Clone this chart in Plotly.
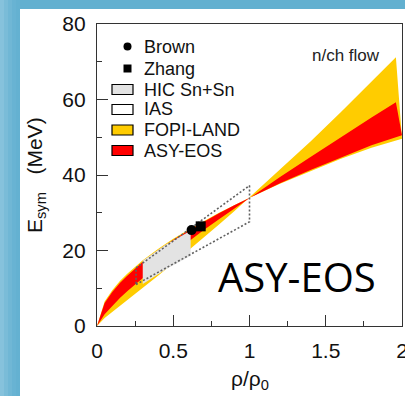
import plotly.graph_objects as go

# ---------------- data ----------------
rho_soft = [0, 0.05, 0.1, 0.15, 0.2, 0.25, 0.3, 0.4, 0.5, 0.6, 0.7, 0.8, 0.9, 1.0, 1.2, 1.4, 1.6, 1.8, 2.0]
rho_stiff = [0, 0.05, 0.1, 0.15, 0.2, 0.25, 0.3, 0.4, 0.5, 0.6, 0.7, 0.8, 0.9, 1.0, 1.2, 1.4, 1.6, 1.8, 1.96]

fopi_soft = [0, 6.5, 9.5, 11.9, 13.9, 15.7, 17.4, 20.4, 23.1, 25.5, 27.8, 30.0, 32.0, 34.0, 37.7, 41.1, 44.3, 47.2, 49.6]
fopi_stiff = [0, 2.1, 3.8, 5.4, 6.9, 8.5, 10.1, 13.3, 16.6, 20.0, 23.4, 26.9, 30.4, 34.0, 41.4, 48.9, 56.7, 64.7, 71.2]

asy_soft = [0, 6.1, 9.0, 11.4, 13.4, 15.3, 17.0, 20.0, 22.8, 25.3, 27.7, 29.9, 32.0, 34.0, 37.8, 41.3, 44.7, 47.9, 50.5]
asy_stiff = [0, 3.1, 5.3, 7.4, 9.25, 11.0, 12.8, 16.1, 19.3, 22.4, 25.4, 28.3, 31.2, 34.0, 39.5, 44.8, 50.1, 55.2, 59.3]

hic_rho = [0.30, 0.45, 0.614]
hic_upper = [17.3, 21.5, 25.2]
hic_lower = [11.1, 15.0, 18.6]

ias_rho = [0.256, 1.0]
ias_upper = [15.4, 37.2]
ias_lower = [11.0, 27.6]

brown_rho, brown_esym = [0.62], [25.4]
zhang_rho, zhang_esym = [0.68], [26.4]

legend_labels = ["Brown", "Zhang", "HIC Sn+Sn", "IAS", "FOPI-LAND", "ASY-EOS"]
x_ticks = [0, 0.5, 1, 1.5, 2]
x_tick_text = ["0", "0.5", "1", "1.5", "2"]
y_ticks = [0, 20, 40, 60, 80]

# ---------------- style ----------------
YELLOW = "#FFCC00"
RED = "#FF0000"
GRAY = "#E3E3E3"
BLUE = "#62B0D0"
W, H = 405, 396
ML, MR, MT, MB = 97, 3, 24, 70
PW, PH = W - ML - MR, H - MT - MB


def px(x):
    return (x - ML) / PW


def py(y):
    return (H - MB - y) / PH


def band(rho_a, ya, rho_b, yb):
    xs = list(rho_a) + list(reversed(rho_b))
    ys = list(ya) + list(reversed(yb))
    return xs + [xs[0]], ys + [ys[0]]


fig = go.Figure()

fx, fy = band(rho_soft, fopi_soft, rho_stiff, fopi_stiff)
fig.add_trace(go.Scatter(x=fx, y=fy, fill="toself", fillcolor=YELLOW, mode="lines",
                         line=dict(width=0), name="FOPI-LAND", showlegend=False, hoverinfo="skip"))
ax, ay = band(rho_soft, asy_soft, rho_stiff, asy_stiff)
fig.add_trace(go.Scatter(x=ax, y=ay, fill="toself", fillcolor=RED, mode="lines",
                         line=dict(width=0), name="ASY-EOS", showlegend=False, hoverinfo="skip"))
hx, hy = band(hic_rho, hic_lower, hic_rho, hic_upper)
fig.add_trace(go.Scatter(x=hx, y=hy, fill="toself", fillcolor=GRAY, mode="lines",
                         line=dict(width=0), name="HIC Sn+Sn", showlegend=False, hoverinfo="skip"))
ix, iy = band(ias_rho, ias_lower, ias_rho, ias_upper)
fig.add_trace(go.Scatter(x=ix, y=iy, mode="lines",
                         line=dict(color="#606060", width=1.6, dash="2px,2px"),
                         name="IAS", showlegend=False, hoverinfo="skip"))
fig.add_trace(go.Scatter(x=brown_rho, y=brown_esym, mode="markers",
                         marker=dict(symbol="circle", size=10, color="black"),
                         name="Brown", showlegend=False))
fig.add_trace(go.Scatter(x=zhang_rho, y=zhang_esym, mode="markers",
                         marker=dict(symbol="square", size=10, color="black"),
                         name="Zhang", showlegend=False))

shapes = []
# background: white panel over the blue slide, with a lighter left edge
left_strips = ["#86C2DC", "#7ABCD8", "#70B7D5", "#68B3D3", "#64B1D1"]
for i, c in enumerate(left_strips):
    shapes.append(dict(type="rect", xref="paper", yref="paper", layer="below",
                       x0=px(i * 4), x1=px(i * 4 + 4), y0=py(H + 5), y1=py(-5),
                       fillcolor=c, line=dict(width=0)))
shapes.append(dict(type="rect", xref="paper", yref="paper", layer="below",
                   x0=px(20), x1=px(W + 5), y0=py(H + 5), y1=py(9),
                   fillcolor="white", line=dict(width=0)))

# manual legend
lx0, lx1 = 112, 133
shapes.append(dict(type="circle", xref="paper", yref="paper",
                   x0=px(123.5), x1=px(131.5), y0=py(50.5), y1=py(42.5),
                   fillcolor="black", line=dict(width=0)))
shapes.append(dict(type="rect", xref="paper", yref="paper",
                   x0=px(123.5), x1=px(131.5), y0=py(72.5), y1=py(64.5),
                   fillcolor="black", line=dict(width=0)))
sw_centers = [89.5, 109.5, 130, 150.5]
sw_colors = [GRAY, "white", YELLOW, RED]
for cy, c in zip(sw_centers, sw_colors):
    shapes.append(dict(type="rect", xref="paper", yref="paper",
                       x0=px(lx0), x1=px(lx1), y0=py(cy + 5), y1=py(cy - 5),
                       fillcolor=c, line=dict(color="black", width=1.2)))

annotations = []
text_centers = [46.7, 69, 89.5, 109.5, 130, 150.5]
for lab, cy in zip(legend_labels, text_centers):
    annotations.append(dict(xref="paper", yref="paper", x=px(142), y=py(cy),
                            text=lab, showarrow=False, xanchor="left", yanchor="middle",
                            font=dict(family="Liberation Sans, Arial", size=18, color="#111")))

annotations.append(dict(xref="x", yref="y", x=1.63, y=71.7, text="n/ch flow", showarrow=False,
                        xanchor="center", yanchor="middle",
                        font=dict(family="Liberation Sans, Arial", size=17, color="#222")))
annotations.append(dict(xref="x", yref="y", x=1.314, y=13.1, text="ASY-EOS", showarrow=False,
                        xanchor="center", yanchor="middle",
                        font=dict(family="Open Sans", size=40, color="black")))
annotations.append(dict(xref="paper", yref="paper", x=px(36), y=py(175),
                        text="E<sub>sym</sub>&nbsp;&nbsp; (MeV)", showarrow=False, textangle=-90,
                        xanchor="center", yanchor="middle",
                        font=dict(family="Liberation Sans, Arial", size=21, color="#111")))
annotations.append(dict(xref="paper", yref="paper", x=px(250), y=py(380),
                        text="ρ/ρ<sub>0</sub>", showarrow=False,
                        xanchor="center", yanchor="middle",
                        font=dict(family="Liberation Sans, Arial", size=21, color="#111")))

axis_common = dict(showgrid=False, zeroline=False, showline=True, linecolor="#333", linewidth=1.3,
                   mirror=True, ticks="inside", ticklen=11, tickwidth=1.3, tickcolor="#333",
                   ticklabeloverflow="allow", automargin=False,
                   tickfont=dict(family="Liberation Sans, Arial", size=21, color="#111"))

fig.update_layout(
    width=W, height=H,
    margin=dict(l=ML, r=MR, t=MT, b=MB, autoexpand=False),
    paper_bgcolor=BLUE, plot_bgcolor="rgba(0,0,0,0)",
    showlegend=False,
    shapes=shapes, annotations=annotations,
    xaxis=dict(range=[0, 2], tickvals=x_ticks, ticktext=x_tick_text,
               minor=dict(tickvals=[0.25, 0.75, 1.25, 1.75], ticks="inside", ticklen=5,
                          tickwidth=1.3, tickcolor="#333"),
               ticklabelstandoff=6, **axis_common),
    yaxis=dict(range=[0, 80], tickvals=y_ticks,
               minor=dict(tickvals=[10, 30, 50, 70], ticks="inside", ticklen=5,
                          tickwidth=1.3, tickcolor="#333"),
               ticklabelstandoff=6, **axis_common),
)

fig.write_html("out.html", config={"displayModeBar": False},
               post_script="document.body.style.margin='0';document.body.style.overflow='hidden';")
